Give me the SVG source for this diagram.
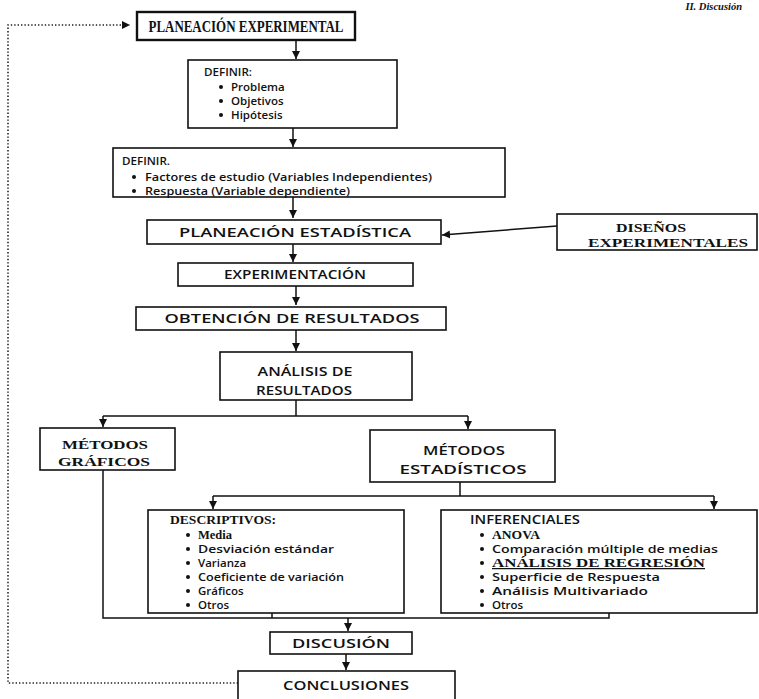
<svg xmlns="http://www.w3.org/2000/svg" width="759" height="699" viewBox="0 0 759 699">
  <defs>
    <marker id="arr" markerWidth="10" markerHeight="10" refX="8" refY="5" orient="auto" markerUnits="userSpaceOnUse">
      <path d="M0,1 L8,5 L0,9 Z" fill="#111"/>
    </marker>
    <style>
      .box { fill: #fff; stroke: #111; stroke-width: 1.6; }
      .thick { stroke-width: 2.4; }
      .edge { fill: none; stroke: #111; stroke-width: 1.5; }
      .dots { fill: none; stroke: #222; stroke-width: 1.6; stroke-dasharray: 1.4 2; }
      .serif { font-family: "Liberation Serif", "DejaVu Serif", serif; font-weight: bold; fill: #111; }
      .sans { font-family: "Open Sans", "Noto Sans", "DejaVu Sans", sans-serif; font-weight: 600; fill: #111; }
      .c { text-anchor: middle; }
      .bul { fill: #111; }
    </style>
  </defs>
  <rect width="759" height="699" fill="#fff"/>

  <!-- running header -->
  <text x="742" y="10" class="serif" font-style="italic" font-size="10.5" text-anchor="end">II. Discusión</text>

  <!-- connectors -->
  <g id="connectors">
    <path class="dots" d="M238,683 H8 V25 H130" marker-end="url(#arr)"/>
    <path class="edge" d="M296,40 V59" marker-end="url(#arr)"/>
    <path class="edge" d="M293,128 V147" marker-end="url(#arr)"/>
    <path class="edge" d="M293,197 V218" marker-end="url(#arr)"/>
    <path class="edge" d="M557,226 L442,235" marker-end="url(#arr)"/>
    <path class="edge" d="M293,244 V262" marker-end="url(#arr)"/>
    <path class="edge" d="M296,286 V305" marker-end="url(#arr)"/>
    <path class="edge" d="M296,330 V351" marker-end="url(#arr)"/>
    <path class="edge" d="M296,400 V416 M103,416 H468"/>
    <path class="edge" d="M103,416 V427" marker-end="url(#arr)"/>
    <path class="edge" d="M468,416 V429" marker-end="url(#arr)"/>
    <path class="edge" d="M460,482 V496 M213,496 H714"/>
    <path class="edge" d="M213,496 V509" marker-end="url(#arr)"/>
    <path class="edge" d="M714,496 V509" marker-end="url(#arr)"/>
    <path class="edge" d="M103,470 V618 H609 V613 M272,613 V618"/>
    <path class="edge" d="M348,618 V631" marker-end="url(#arr)"/>
    <path class="edge" d="M346,654 V670" marker-end="url(#arr)"/>
  </g>

  <g id="planeacion-experimental">
    <rect class="box thick" x="137" y="12" width="218" height="28"/>
    <text x="246" y="32" class="serif c" font-size="16" textLength="195" lengthAdjust="spacingAndGlyphs">PLANEACIÓN EXPERIMENTAL</text>
  </g>

  <g id="definir-1">
    <rect class="box" x="188" y="60" width="209" height="68"/>
    <text x="204" y="76" class="sans" font-size="11.5" textLength="48" lengthAdjust="spacingAndGlyphs">DEFINIR:</text>
    <circle class="bul" cx="221" cy="87" r="2"/>
    <circle class="bul" cx="221" cy="101" r="2"/>
    <circle class="bul" cx="221" cy="115" r="2"/>
    <text x="231" y="91" class="sans" font-size="11.5">Problema</text>
    <text x="231" y="105" class="sans" font-size="11.5">Objetivos</text>
    <text x="231" y="119" class="sans" font-size="11.5">Hipótesis</text>
  </g>

  <g id="definir-2">
    <rect class="box" x="113" y="148" width="392" height="49"/>
    <text x="122" y="165" class="sans" font-size="11.5" textLength="48" lengthAdjust="spacingAndGlyphs">DEFINIR.</text>
    <circle class="bul" cx="134" cy="177" r="2"/>
    <circle class="bul" cx="134" cy="191" r="2"/>
    <text x="145" y="181" class="sans" font-size="11.5" textLength="287" lengthAdjust="spacingAndGlyphs">Factores de estudio (Variables Independientes)</text>
    <text x="145" y="195" class="sans" font-size="11.5" textLength="205" lengthAdjust="spacingAndGlyphs">Respuesta  (Variable dependiente)</text>
  </g>

  <g id="planeacion-estadistica">
    <rect class="box" x="147" y="220" width="294" height="24"/>
    <text x="295" y="237" class="sans c" font-size="12" textLength="232" lengthAdjust="spacingAndGlyphs">PLANEACIÓN ESTADÍSTICA</text>
  </g>

  <g id="disenos-experimentales">
    <rect class="box" x="557" y="214" width="200" height="36"/>
    <text x="651" y="232" class="serif c" font-size="13.5" textLength="70" lengthAdjust="spacingAndGlyphs">DISEÑOS</text>
    <text x="668" y="247" class="serif c" font-size="13.5" textLength="160" lengthAdjust="spacingAndGlyphs">EXPERIMENTALES</text>
  </g>

  <g id="experimentacion">
    <rect class="box" x="178" y="263" width="235" height="23"/>
    <text x="295" y="279" class="sans c" font-size="12" textLength="142" lengthAdjust="spacingAndGlyphs">EXPERIMENTACIÓN</text>
  </g>

  <g id="obtencion">
    <rect class="box" x="136" y="307" width="310" height="23"/>
    <text x="292" y="323" class="sans c" font-size="12" textLength="255" lengthAdjust="spacingAndGlyphs">OBTENCIÓN DE RESULTADOS</text>
  </g>

  <g id="analisis-resultados">
    <rect class="box" x="220" y="352" width="192" height="48"/>
    <text x="305" y="376" class="sans c" font-size="12" textLength="95" lengthAdjust="spacingAndGlyphs">ANÁLISIS DE</text>
    <text x="304" y="395" class="sans c" font-size="12" textLength="96" lengthAdjust="spacingAndGlyphs">RESULTADOS</text>
  </g>

  <g id="metodos-graficos">
    <rect class="box" x="40" y="428" width="135" height="42"/>
    <text x="105" y="449" class="serif c" font-size="13.5" textLength="86" lengthAdjust="spacingAndGlyphs">MÉTODOS</text>
    <text x="104" y="466" class="serif c" font-size="13.5" textLength="92" lengthAdjust="spacingAndGlyphs">GRÁFICOS</text>
  </g>

  <g id="metodos-estadisticos">
    <rect class="box" x="370" y="430" width="185" height="52"/>
    <text x="464" y="455" class="sans c" font-size="12" textLength="82" lengthAdjust="spacingAndGlyphs">MÉTODOS</text>
    <text x="463" y="474" class="sans c" font-size="12" textLength="127" lengthAdjust="spacingAndGlyphs">ESTADÍSTICOS</text>
  </g>

  <g id="descriptivos">
    <rect class="box" x="148" y="510" width="256" height="103"/>
    <text x="170" y="524" class="serif" font-size="12.5" textLength="106" lengthAdjust="spacingAndGlyphs">DESCRIPTIVOS:</text>
    <g font-size="11.5">
      <circle class="bul" cx="188" cy="535" r="2"/>
      <circle class="bul" cx="188" cy="549" r="2"/>
      <circle class="bul" cx="188" cy="563" r="2"/>
      <circle class="bul" cx="188" cy="577" r="2"/>
      <circle class="bul" cx="188" cy="591" r="2"/>
      <circle class="bul" cx="188" cy="605" r="2"/>
      <text x="198" y="539" class="serif" font-size="12.5">Media</text>
      <text x="198" y="553" class="sans" textLength="136" lengthAdjust="spacingAndGlyphs">Desviación estándar</text>
      <text x="198" y="567" class="sans">Varianza</text>
      <text x="198" y="581" class="sans" textLength="146" lengthAdjust="spacingAndGlyphs">Coeficiente de variación</text>
      <text x="198" y="595" class="sans">Gráficos</text>
      <text x="198" y="609" class="sans">Otros</text>
    </g>
  </g>

  <g id="inferenciales">
    <rect class="box" x="441" y="510" width="316" height="103"/>
    <text x="470" y="524" class="sans" font-size="12" textLength="110" lengthAdjust="spacingAndGlyphs">INFERENCIALES</text>
    <g font-size="11.5">
      <circle class="bul" cx="482" cy="535" r="2"/>
      <circle class="bul" cx="482" cy="549" r="2"/>
      <circle class="bul" cx="482" cy="563" r="2"/>
      <circle class="bul" cx="482" cy="577" r="2"/>
      <circle class="bul" cx="482" cy="591" r="2"/>
      <circle class="bul" cx="482" cy="605" r="2"/>
      <text x="492" y="539" class="serif" font-size="12.5" textLength="48" lengthAdjust="spacingAndGlyphs">ANOVA</text>
      <text x="492" y="553" class="sans" textLength="226" lengthAdjust="spacingAndGlyphs">Comparación múltiple de medias</text>
      <text x="492" y="567" class="serif" font-size="12.5" textLength="213" lengthAdjust="spacingAndGlyphs" text-decoration="underline">ANÁLISIS DE REGRESIÓN</text>
      <text x="492" y="581" class="sans" textLength="168" lengthAdjust="spacingAndGlyphs">Superficie de Respuesta</text>
      <text x="492" y="595" class="sans" textLength="156" lengthAdjust="spacingAndGlyphs">Análisis Multivariado</text>
      <text x="492" y="609" class="sans">Otros</text>
    </g>
  </g>

  <g id="discusion">
    <rect class="box" x="270" y="632" width="142" height="22"/>
    <text x="341" y="648" class="sans c" font-size="12" textLength="98" lengthAdjust="spacingAndGlyphs">DISCUSIÓN</text>
  </g>

  <g id="conclusiones">
    <rect class="box" x="238" y="671" width="217" height="40"/>
    <text x="346" y="690" class="sans c" font-size="12" textLength="126" lengthAdjust="spacingAndGlyphs">CONCLUSIONES</text>
  </g>
</svg>
